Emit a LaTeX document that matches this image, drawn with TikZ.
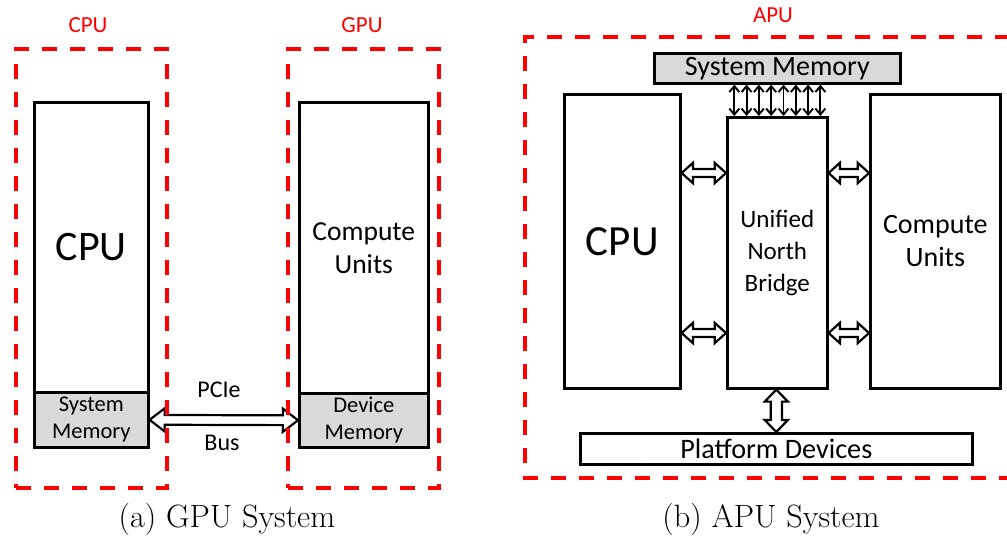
\documentclass[tikz,border=0pt]{standalone}
\usepackage{fontspec}
\usetikzlibrary{shapes.arrows,arrows.meta,calc}
\newfontfamily\calibri{Carlito}

\tikzset{
  block/.style={draw=black, line width=2.6pt, fill=white, inner sep=0pt,
    align=center, font=\calibri},
  memblock/.style={block, fill=black!15},
  region/.style={draw=red, line width=4pt, dash pattern=on 15pt off 13pt},
  regionlabel/.style={text=red, font=\calibri\fontsize{23}{27}\selectfont},
  hollow/.style={double arrow, draw=black, fill=white, line width=2.2pt,
    inner xsep=0pt},
  bus/.style={draw=black, line width=1.9pt,
    {Straight Barb[length=6pt,width=10pt]}-{Straight Barb[length=6pt,width=10pt]}},
  caption/.style={font=\fontsize{32.3}{38}\selectfont}
}

% block arrow between two points, drawn as a double arrow shape
\newcommand\hollowlink[3][]{%
  \path let \p1=(#2), \p2=(#3),
    \n1={veclen(\x2-\x1,\y2-\y1)}, \n2={atan2(\y2-\y1,\x2-\x1)} in
    node[hollow, #1, minimum height=\n1, rotate=\n2] at ($(\p1)!0.5!(\p2)$) {};}

\begin{document}
\begin{tikzpicture}[x=1pt,y=-1pt]
\useasboundingbox (0,0) rectangle (1007,536);

% ---------- discrete GPU system ----------
\node[block, anchor=north west, minimum width=114pt, minimum height=290pt,
  font=\calibri\fontsize{42}{48}\selectfont] (cpuA) at (33,101) {CPU};
\node[memblock, anchor=north west, minimum width=114pt, minimum height=55pt,
  font=\calibri\fontsize{22.5}{27}\selectfont] (sysmemA) at (33,391) {System\\Memory};

\node[block, anchor=north west, minimum width=129pt, minimum height=291pt,
  font=\calibri\fontsize{27.5}{33}\selectfont] (gpuA) at (298,101) {Compute\\Units};
\node[memblock, anchor=north west, minimum width=129pt, minimum height=54pt,
  font=\calibri\fontsize{22.5}{27}\selectfont] (devmem) at (298,392) {Device\\Memory};

\hollowlink[inner ysep=3.8pt, double arrow head extend=6.7pt, double arrow tip angle=75]{sysmemA.east}{devmem.west}
\node[font=\calibri\fontsize{24}{28}\selectfont] (pcie) at (219,390) {PCIe};
\node[font=\calibri\fontsize{24}{28}\selectfont] (busl) at (222,443) {Bus};

% dashed chip outlines, on top of the bus arrow
\node[region, anchor=north west, minimum width=151pt, minimum height=439pt] (cpuregion) at (14,47) {};
\node[regionlabel] (cpulabel) at (88,25) {CPU};
\node[region, anchor=north west, minimum width=151pt, minimum height=439pt] (gpuregion) at (286,47) {};
\node[regionlabel] (gpulabel) at (362,25) {GPU};

\node[caption] (capa) at (227,519) {(a) GPU System};

% ---------- APU system ----------
\draw[region] (1010,37) -- (525,37) -- (525,478) -- (1010,478);
\node[regionlabel] (apulabel) at (773,15) {APU};

\node[memblock, anchor=north west, minimum width=246pt, minimum height=30pt,
  font=\calibri\fontsize{28}{33}\selectfont] (sysmem) at (653,52) {System Memory};

\node[block, anchor=north west, minimum width=116pt, minimum height=294pt,
  font=\calibri\fontsize{43}{48}\selectfont] (cpuB) at (563,93) {CPU};
\node[block, anchor=north west, minimum width=100pt, minimum height=271pt,
  font=\calibri\fontsize{25}{32}\selectfont] (unb) at (726,116) {Unified\\North\\Bridge};
\node[block, anchor=north west, minimum width=130pt, minimum height=294pt,
  font=\calibri\fontsize{28}{33}\selectfont] (cu) at (869,93) {Compute\\Units};

\node[block, anchor=north west, minimum width=392pt, minimum height=31pt,
  font=\calibri\fontsize{28.2}{33}\selectfont] (platform) at (579,432) {Platform Devices};

% memory channels
\foreach \i in {0,...,7}{
  \pgfmathsetmacro\dx{-43+12.3*\i}
  \draw[bus] let \p1=(sysmem.south), \p2=(unb.north) in
    (\x1+\dx,\y1) -- (\x1+\dx,\y2);
}

% links to the north bridge
\hollowlink[inner ysep=2.9pt, double arrow head extend=6.2pt, double arrow tip angle=84]{$(cpuB.north east)+(0,80)$}{$(unb.west|-cpuB.north)+(0,80)$}
\hollowlink[inner ysep=2.9pt, double arrow head extend=6.2pt, double arrow tip angle=84]{$(cpuB.north east)+(0,240)$}{$(unb.west|-cpuB.north)+(0,240)$}
\hollowlink[inner ysep=2.9pt, double arrow head extend=6.2pt, double arrow tip angle=84]{$(unb.east|-cu.north)+(0,80)$}{$(cu.north west)+(0,80)$}
\hollowlink[inner ysep=2.9pt, double arrow head extend=6.2pt, double arrow tip angle=84]{$(unb.east|-cu.north)+(0,240)$}{$(cu.north west)+(0,240)$}
\hollowlink[inner ysep=4.5pt, double arrow head extend=6pt, double arrow tip angle=88]{unb.south-|platform.north}{platform.north}

\node[caption] (capb) at (771,519) {(b) APU System};
\end{tikzpicture}
\end{document}
